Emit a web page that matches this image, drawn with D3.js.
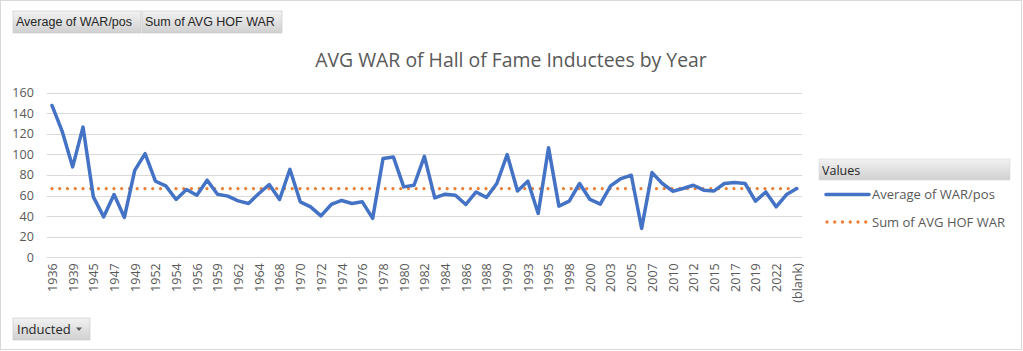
<!DOCTYPE html>
<html>
<head>
<meta charset="utf-8">
<script src="https://cdn.jsdelivr.net/npm/d3@7"></script>
<style>
  body { margin: 0; background: #fff; }
  svg { display: block; }
</style>
</head>
<body>
<svg id="chart" width="1023" height="351"></svg>
<script>
// induction years (pivot rows), the last row is the pivot "(blank)"
var years = ["1936","1937","1939","1942","1945","1946","1947","1948","1949","1951",
  "1952","1953","1954","1955","1956","1957","1959","1961","1962","1963",
  "1964","1966","1968","1969","1970","1971","1972","1973","1974","1975",
  "1976","1977","1978","1979","1980","1981","1982","1983","1984","1985",
  "1986","1987","1988","1989","1990","1991","1993","1994","1995","1996",
  "1998","1999","2000","2001","2003","2004","2005","2006","2007","2009",
  "2010","2011","2012","2014","2015","2016","2017","2018","2019","2020",
  "2022","2023","(blank)"];

// Average of WAR/pos
var avgWar = [147.5,122,87.8,126.5,58.7,39.3,61,38.7,84.5,100.7,
  73.9,69.4,56.2,65.8,60.3,74.9,61.3,59.4,54.8,52.3,
  62,70.7,56.2,85.5,53.9,49,40.3,51.3,55.2,52.3,
  53.9,37.8,95.9,97.5,68.4,70,98,57.7,61.3,60.3,
  51.3,63.5,58.1,71.7,99.8,64.5,73.9,42.6,106.5,49.7,
  54.5,71.7,56.2,51.6,69.4,76.5,79.7,28.1,82.3,71.7,
  64.2,66.8,70,65.2,64.5,71.7,72.6,71.7,54.5,63.5,
  49,61,66.8];

// Sum of AVG HOF WAR (same value in every row)
var hofAvg = 66.8;

var yTicks = [0,20,40,60,80,100,120,140,160];
var seriesNames = ["Average of WAR/pos", "Sum of AVG HOF WAR"];

var blue = "#4472C4", orange = "#ED7D31", grey = "#595959";

var svg = d3.select("#chart");
var defs = svg.append("defs");
var grad = defs.append("linearGradient").attr("id", "btn")
  .attr("x1", 0).attr("y1", 0).attr("x2", 0).attr("y2", 1);
grad.append("stop").attr("offset", "0%").attr("stop-color", "#f2f2f2");
grad.append("stop").attr("offset", "100%").attr("stop-color", "#d0d0d0");

// outer chart border
svg.append("rect")
  .attr("x", 0.5).attr("y", 0.5).attr("width", 1021).attr("height", 349)
  .attr("fill", "#fff").attr("stroke", "#d9d9d9");

// pivot field buttons on top
var btns = [{t: seriesNames[0], x: 13, w: 128}, {t: seriesNames[1], x: 142, w: 140}];
var bg = svg.selectAll(".fbtn").data(btns).enter().append("g").attr("class", "fbtn");
bg.append("rect")
  .attr("x", function(d){ return d.x; }).attr("y", 11)
  .attr("width", function(d){ return d.w; }).attr("height", 22)
  .attr("fill", "url(#btn)").attr("stroke", "#c6c6c6").attr("stroke-width", 0.6);
bg.append("text")
  .attr("x", function(d){ return d.x + 3; }).attr("y", 26)
  .attr("font-family", "'Liberation Sans Narrow', 'Liberation Sans', sans-serif")
  .attr("font-size", 12.5).attr("fill", "#262626")
  .text(function(d){ return d.t; });

svg.append("text")
  .attr("x", 511).attr("y", 67)
  .attr("text-anchor", "middle")
  .attr("font-family", "'Open Sans', sans-serif")
  .attr("font-size", 19.4).attr("fill", grey)
  .text("AVG WAR of Hall of Fame Inductees by Year");

var pL = 46.8, pR = 802, pT = 92.6, pB = 257.3;

var x = d3.scalePoint().domain(years).range([pL, pR]).padding(0.5);
var y = d3.scaleLinear().domain([0, 160]).range([pB, pT]);

// gridlines
svg.append("g").selectAll("line").data(yTicks).enter().append("line")
  .attr("x1", pL).attr("x2", pR)
  .attr("y1", function(d){ return Math.round(y(d)) + 0.5; })
  .attr("y2", function(d){ return Math.round(y(d)) + 0.5; })
  .attr("stroke", "#d9d9d9").attr("stroke-width", 1);

var yAxis = svg.append("g")
  .attr("transform", "translate(" + (pL - 13) + ",0)")
  .call(d3.axisLeft(y).tickValues(yTicks).tickSize(0).tickPadding(0));
yAxis.select(".domain").remove();
yAxis.selectAll("text")
  .attr("font-family", "'Open Sans', sans-serif").attr("font-size", 12.5)
  .attr("fill", grey);

var xAxis = svg.append("g")
  .attr("transform", "translate(0," + pB + ")")
  .call(d3.axisBottom(x).tickSize(0).tickValues(years.filter(function(d, i){ return i % 2 === 0; })));
xAxis.select(".domain").remove();
xAxis.selectAll("text")
  .attr("font-family", "'Open Sans', sans-serif").attr("font-size", 12.5)
  .attr("fill", grey)
  .attr("text-anchor", "end")
  .attr("transform", "rotate(-90)")
  .attr("x", -6).attr("y", 0).attr("dy", "0.35em");

// series
var line = d3.line()
  .x(function(d){ return x(d.year); })
  .y(function(d){ return y(d.v); });

var hofRows = years.map(function(yr){ return {year: yr, v: hofAvg}; });
svg.append("path")
  .attr("d", line(hofRows))
  .attr("fill", "none").attr("stroke", orange)
  .attr("stroke-width", 3.3).attr("stroke-linecap", "round")
  .attr("stroke-dasharray", "0,7.75");

var warRows = years.map(function(yr, i){ return {year: yr, v: avgWar[i]}; });
svg.append("path")
  .attr("d", line(warRows))
  .attr("fill", "none").attr("stroke", blue)
  .attr("stroke-width", 3.5).attr("stroke-linejoin", "round").attr("stroke-linecap", "round");

// legend
var lg = svg.append("g");
lg.append("rect")
  .attr("x", 819).attr("y", 159).attr("width", 191).attr("height", 21)
  .attr("fill", "url(#btn)").attr("stroke", "#d6d6d6").attr("stroke-width", 0.6);
lg.append("text")
  .attr("x", 822).attr("y", 175)
  .attr("font-family", "'Open Sans', sans-serif").attr("font-size", 12.5)
  .attr("fill", "#262626").text("Values");

var items = lg.selectAll(".item").data(seriesNames).enter().append("g").attr("class", "item")
  .attr("transform", function(d, i){ return "translate(0," + (194.5 + i * 27.5) + ")"; });
items.append("line")
  .attr("x1", function(d, i){ return i ? 827 : 826; }).attr("x2", 869)
  .attr("stroke", function(d, i){ return i ? orange : blue; })
  .attr("stroke-width", function(d, i){ return i ? 3.3 : 3.5; })
  .attr("stroke-linecap", "round")
  .attr("stroke-dasharray", function(d, i){ return i ? "0,7.75" : null; });
items.append("text")
  .attr("x", 872).attr("dy", "0.35em")
  .attr("font-family", "'Open Sans', sans-serif").attr("font-size", 13)
  .attr("fill", grey).text(function(d){ return d; });

// row field button
var rb = svg.append("g");
rb.append("rect")
  .attr("x", 13).attr("y", 318).attr("width", 77).attr("height", 22)
  .attr("fill", "url(#btn)").attr("stroke", "#c6c6c6").attr("stroke-width", 0.6);
rb.append("text")
  .attr("x", 17).attr("y", 334)
  .attr("font-family", "'Open Sans', sans-serif").attr("font-size", 13)
  .attr("fill", "#262626").text("Inducted");
rb.append("path")
  .attr("d", "M76,327.5 L82,327.5 L79,331 Z")
  .attr("fill", grey);
</script>
</body>
</html>
